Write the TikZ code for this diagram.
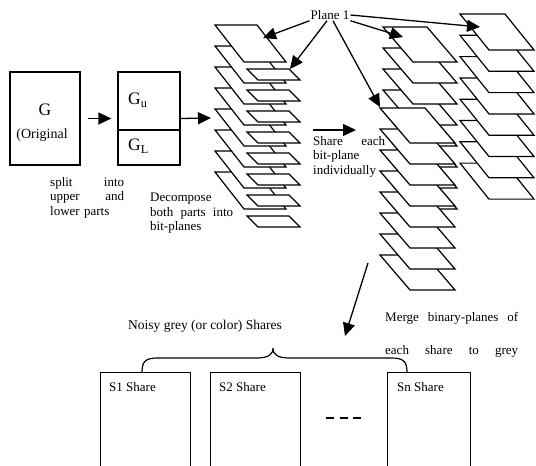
\documentclass[tikz,border=0pt]{standalone}
\usepackage{fontspec}
\setmainfont{Liberation Serif}
\usetikzlibrary{arrows.meta,positioning,calc}
\tikzset{
  txt/.style={font=\fontsize{13}{14.5}\selectfont, inner sep=0pt},
  para/.style={txt, align=left, text width=#1, anchor=north west},
  bigG/.style={font=\fontsize{17.5}{20}\selectfont, inner sep=0pt},
  imgbox/.style={draw, line width=1.3pt, minimum width=#1, minimum height=93pt, inner sep=0pt},
  sharebox/.style={draw, line width=1.3pt, minimum width=#1, minimum height=100pt,
                   inner sep=0pt, anchor=north west},
  bitplane/.style={draw, fill=white, line width=1.2pt},
  arr/.style={-{Triangle[length=13pt,width=12pt]}, line width=1.3pt},
}
\newcommand{\bplane}[5]{\draw[bitplane] (#1,#2) -- ++(#3,0) -- ++(#4,#5) -- ++(-#3,0) -- cycle;}

\begin{document}
\begin{tikzpicture}[x=1pt, y=-1pt]
\path[fill=white] (0,0) rectangle (536,466);
\useasboundingbox (0,0) rectangle (536,466);

% Original image and its split
\node[imgbox=70pt] (gbox) at (45,118.5) {};
\node[bigG] (gname) at (45,110) {G};
\node[txt, font=\fontsize{14}{16}\selectfont] (gorig) at (42,135) {(Original};

\node[imgbox=62pt] (gubox) at (149,118.5) {};
\draw[line width=1.6pt] (gubox.west |- 0,130) -- (gubox.east |- 0,130);
\node[bigG, anchor=west] (gu) at (128,100) {G\textsubscript{u}};
\node[bigG, anchor=west] (gl) at (128,146) {G\textsubscript{L}};

\draw[arr, shorten <=7pt, shorten >=6pt] (gbox.east) -- (gubox.west);
\coordinate (stackin) at (211,118);
\draw[arr] (gubox.east) -- (stackin);

\node[para=74pt] (splittxt) at (50,177) {split\hfill into\\upper\hfill and\\lower parts};
\node[para=83pt] (decomp) at (150,193) {Decompose\\both\hfill parts\hfill into\\bit-planes};

% Bit-planes of both parts
\foreach \k in {7,...,0}{
  \bplane{215}{25+21*\k}{42}{29}{37}
  \bplane{247}{69+21*\k}{42}{11}{11}
}

% Shared bit-planes
\foreach \k in {7,...,0} {\bplane{383}{27+21*\k}{44}{30}{35}}
\foreach \k in {7,...,0} {\bplane{380}{108+21*\k}{45}{30}{35}}
\foreach \k in {7,...,0} {\bplane{460}{14+21.3*\k}{45}{29}{36}}

% Plane 1 pointers
\node[txt, inner sep=1pt] (plane1) at (330,15) {Plane 1};
\coordinate (tipA) at (263,38);
\coordinate (tipB) at (290,69);
\coordinate (tipC) at (380,107);
\coordinate (tipD) at (480,27);
\coordinate (tipE) at (403,37);
\draw[arr] (plane1.south west) -- (tipA);
\draw[arr] ([xshift=-3pt]plane1.south) -- (tipB);
\draw[arr] ([xshift=3pt]plane1.south) -- (tipC);
\draw[arr] (plane1.east) -- (tipD);
\draw[arr] (plane1.south east) -- (tipE);

% Sharing step
\coordinate (sharefrom) at (313,130);
\coordinate (shareto) at (356,130);
\draw[arr] (sharefrom) -- (shareto);
\node[para=72pt] (sharetxt) at (313,136) {Share\hfill each\\bit-plane\\individually};

% Merge into shares
\coordinate (mergefrom) at (368,263);
\coordinate (mergeto) at (345,336);
\draw[arr] (mergefrom) -- (mergeto);
\node[para=133pt] (mergetxt) at (385,312) {Merge\hfill binary-planes\hfill of\\[19pt]each\hfill share\hfill to\hfill grey};

\node[txt, anchor=base, font=\fontsize{13.5}{15}\selectfont] (noisy) at (205,329) {Noisy grey (or color) Shares};
\draw[line width=1.2pt] (142,372) .. controls (142,361) and (146,358) .. (158,358) -- (256,358)
  .. controls (268,358) and (273,355) .. (273,348) .. controls (273,355) and (278,358) .. (290,358)
  -- (391,358) .. controls (403,358) and (407,361) .. (407,372);

\node[sharebox=90pt] (s1) at (100,372) {};
\node[sharebox=90pt] (s2) at (210,372) {};
\node[sharebox=83pt] (sn) at (387,372) {};
\node[txt, anchor=west] (s1lab) at (109,387) {S1 Share};
\node[txt, anchor=west] (s2lab) at (219,387) {S2 Share};
\node[txt, anchor=west] (snlab) at (397,387) {Sn Share};
\draw[line width=1.3pt, dash pattern=on 8pt off 5.5pt] (s2.east |- 0,418) ++(25,0) -- ++(35,0);
\end{tikzpicture}
\end{document}
